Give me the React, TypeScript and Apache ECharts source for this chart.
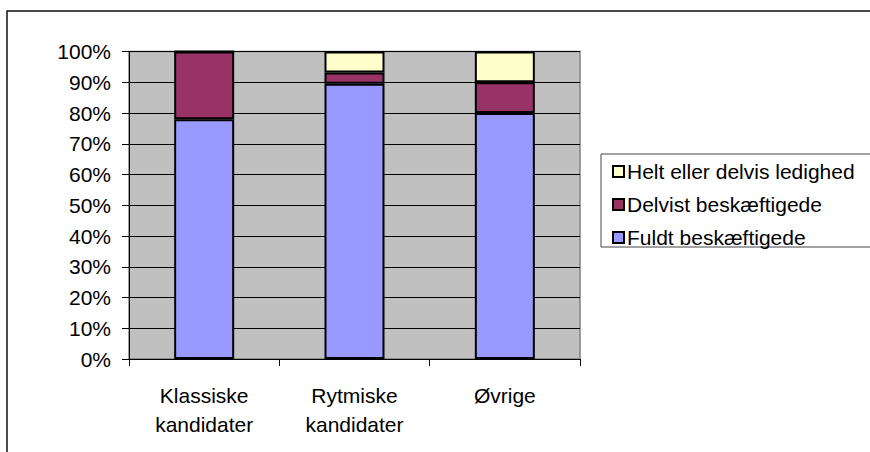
import React, { useEffect, useRef } from "react";
import * as echarts from "echarts";

const categories = ["Klassiske\nkandidater", "Rytmiske\nkandidater", "Øvrige"];
const fuldt = [78, 89.5, 80];
const delvist = [22, 3.7, 10];
const helt = [0, 6.8, 10];
const seriesNames = ["Fuldt beskæftigede", "Delvist beskæftigede", "Helt eller delvis ledighed"];
const legendOrder = ["Helt eller delvis ledighed", "Delvist beskæftigede", "Fuldt beskæftigede"];
const colors = ["#9999FF", "#993366", "#FFFFCC"];

const FONT = "'Liberation Sans', Arial, sans-serif";

export default function App() {
  const ref = useRef<HTMLDivElement>(null);
  useEffect(() => {
    if (!ref.current) return;
    const chart = echarts.init(ref.current, undefined, { renderer: "svg" });
    const data = [fuldt, delvist, helt];
    chart.setOption({
      animation: false,
      backgroundColor: "#ffffff",
      textStyle: { fontFamily: FONT },
      graphic: [
        {
          type: "rect",
          shape: { x: 7, y: 11, width: 900, height: 500 },
          style: { fill: "none", stroke: "#111", lineWidth: 1.5 },
          silent: true,
        },
        {
          type: "rect",
          shape: { x: 601, y: 154, width: 300, height: 93 },
          style: { fill: "#fff", stroke: "#444", lineWidth: 1 },
          silent: true,
          z: -1,
        },
      ],
      grid: {
        left: 129,
        top: 51.5,
        width: 451,
        height: 307.5,
        show: true,
        backgroundColor: "#C0C0C0",
        borderColor: "#808080",
        borderWidth: 1.5,
      },
      legend: {
        orient: "vertical",
        left: 607,
        top: 156,
        itemWidth: 11,
        itemHeight: 11,
        itemGap: 12,
        data: legendOrder,
        icon: "rect",
        itemStyle: { borderColor: "#000", borderWidth: 2 },
        textStyle: { fontFamily: FONT, fontSize: 21, color: "#000", padding: [0, 0, 0, -2] },
      },
      xAxis: {
        type: "category",
        data: categories,
        boundaryGap: true,
        axisLine: { show: true, lineStyle: { color: "#000", width: 1 } },
        axisTick: { show: true, length: 7, alignWithLabel: false, lineStyle: { color: "#000" } },
        axisLabel: {
          fontFamily: FONT,
          fontSize: 21,
          color: "#000",
          lineHeight: 29,
          margin: 22,
          interval: 0,
        },
        splitLine: { show: false },
      },
      yAxis: {
        type: "value",
        min: 0,
        max: 100,
        interval: 10,
        axisLine: { show: true, lineStyle: { color: "#000", width: 1 } },
        axisTick: { show: true, length: 7, lineStyle: { color: "#000" } },
        axisLabel: {
          formatter: "{value}%",
          fontFamily: FONT,
          fontSize: 21,
          color: "#000",
          margin: 18,
        },
        splitLine: { show: true, lineStyle: { color: "#000", width: 1 } },
      },
      series: seriesNames.map((name, i) => ({
        name,
        type: "bar",
        stack: "total",
        barWidth: 60,
        data: data[i],
        itemStyle: { color: colors[i], borderColor: "#000", borderWidth: 2 },
      })),
    });
    return () => chart.dispose();
  }, []);
  return (
    <div
      ref={ref}
      style={{ position: "absolute", left: 0, top: 0, width: 870, height: 452 }}
    />
  );
}
